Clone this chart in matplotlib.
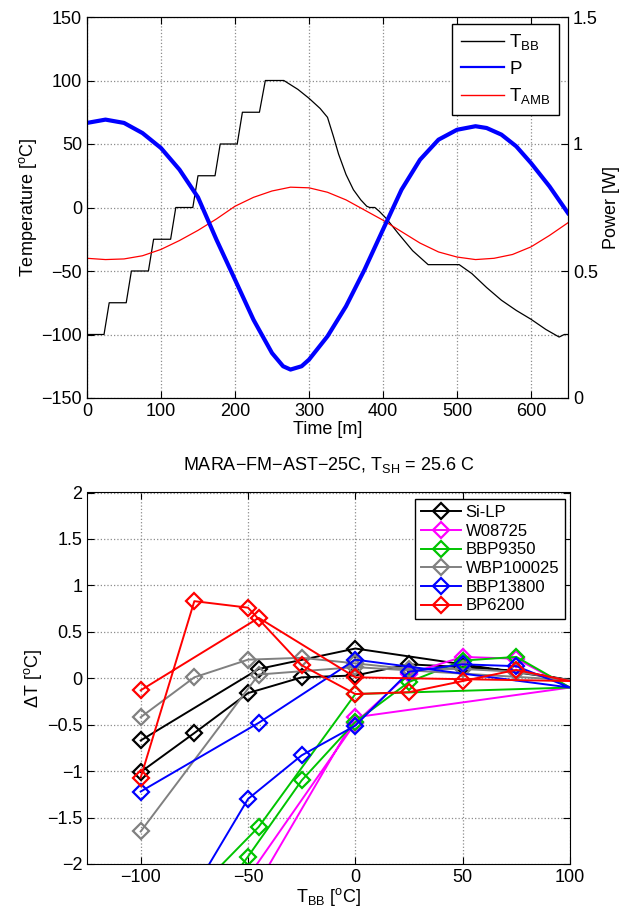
import matplotlib
matplotlib.use('Agg')
import matplotlib.pyplot as plt
from matplotlib.ticker import FuncFormatter, MultipleLocator

plt.rcParams['font.family'] = ['Liberation Sans', 'DejaVu Sans']
plt.rcParams['mathtext.fontset'] = 'custom'
plt.rcParams['mathtext.rm'] = 'Liberation Sans'
plt.rcParams['mathtext.it'] = 'Liberation Sans:italic'
plt.rcParams['font.size'] = 13

# --- top panel: time series ---
t_bb = [0, 23, 30, 53, 60, 83, 90, 113, 120, 143, 150, 173, 180, 203, 210, 233,
        241, 266, 285, 300, 315, 325, 333, 340, 350, 360, 370, 378, 382, 389,
        395, 405, 420, 440, 461, 503, 520, 540, 560, 580, 600, 620, 638, 645, 650]
temp_bb = [-100, -100, -75, -75, -50, -50, -25, -25, 0, 0, 25, 25, 50, 50, 75, 75,
           100, 100, 93, 86, 78, 71, 56, 42, 26, 14, 6, 1, 0, 0,
           -3, -9, -20, -34, -45, -45, -52, -63, -73, -81, -88, -96, -102, -100, -100]

t_amb = [0, 25, 50, 75, 100, 125, 150, 175, 200, 225, 250, 275, 300, 325, 350,
         375, 400, 425, 450, 475, 500, 525, 550, 575, 600, 625, 650]
temp_amb = [-40, -41, -40.5, -38, -33, -26, -18, -9, 1, 8, 13, 16, 15.5, 12, 6,
            -2, -10, -19, -28, -35, -39, -41, -40, -37, -31, -22, -12]

t_pow = [0, 25, 50, 75, 100, 125, 150, 175, 200, 225, 250, 265, 275, 290, 300,
         325, 350, 375, 400, 425, 450, 475, 500, 525, 540, 560, 580, 600, 625, 650]
power = [1.083, 1.096, 1.083, 1.043, 0.984, 0.899, 0.79, 0.623, 0.466, 0.308,
         0.177, 0.125, 0.112, 0.125, 0.151, 0.243, 0.361, 0.505, 0.663, 0.82,
         0.938, 1.017, 1.056, 1.07, 1.063, 1.037, 0.991, 0.925, 0.833, 0.728]

# --- bottom panel: heating run then cooling run ---
tbb_path = [-100, -75, -50, -25, 0, 25, 50, 75, 100, 0, -45, -100]
tbb_path_w = [-100, -75, -50, 0, 25, 50, 75, 100, 0, -45, -100]

dt_silp = [-1.01, -0.59, -0.16, 0.01, 0.03, 0.15, 0.12, 0.08, -0.02, 0.32, 0.10, -0.67]
dt_w08725 = [-4.0, -3.0, -2.14, -0.48, 0.05, 0.23, 0.21, -0.10, -0.42, -2.2, -4.0]
dt_bbp9350 = [-3.5, -2.7, -1.92, -1.10, -0.47, -0.04, 0.19, 0.23, -0.10, -0.17, -1.60, -2.9]
dt_wbp100025 = [-0.42, 0.01, 0.20, 0.22, 0.16, 0.10, 0.10, 0.07, -0.02, 0.12, 0.04, -1.65]
dt_bbp13800 = [-3.2, -2.27, -1.30, -0.83, -0.51, 0.07, 0.15, 0.13, -0.10, 0.20, -0.48, -1.22]
dt_bp6200 = [-1.07, 0.83, 0.76, 0.14, -0.17, -0.15, -0.03, 0.09, -0.03, 0.01, 0.65, -0.13]

filters = ['Si-LP', 'W08725', 'BBP9350', 'WBP100025', 'BBP13800', 'BP6200']
colors = ['#000000', '#ff00ff', '#00c400', '#808080', '#0000ff', '#ff0000']


def fmt(v, pos):
    return ('%g' % v).replace('-', '\u2212')


fig = plt.figure(figsize=(6.23, 9.14), dpi=100)

# top axes
ax = fig.add_axes([87 / 623, 1 - 398 / 914, 481 / 623, 381 / 914])
l1, = ax.plot(t_bb, temp_bb, color='k', lw=0.9)
l3, = ax.plot(t_amb, temp_amb, color='#ff0000', lw=0.9)
ax.set_xlim(0, 650)
ax.set_ylim(-150, 150)
ax.xaxis.set_major_locator(MultipleLocator(100))
ax.yaxis.set_major_locator(MultipleLocator(50))
ax.yaxis.set_major_formatter(FuncFormatter(fmt))
ax.grid(True, linestyle=':', color='0.55', lw=0.9)
ax.tick_params(direction='in', length=5, top=True, right=False)
ax.set_xlabel('Time [m]', labelpad=1)
ax.set_ylabel('Temperature [$^\\mathrm{o}$C]', labelpad=2)

ax2 = ax.twinx()
l2, = ax2.plot(t_pow, power, color='#0000ff', lw=3)
ax2.set_ylim(0, 1.5)
ax2.yaxis.set_major_locator(MultipleLocator(0.5))
ax2.yaxis.set_major_formatter(FuncFormatter(fmt))
ax2.tick_params(direction='in', length=5)
ax2.set_ylabel('Power [W]', labelpad=4)

leg = ax2.legend([l1, l2, l3], ['T$_\\mathrm{BB}$', 'P', 'T$_\\mathrm{AMB}$'],
                 loc='upper right', bbox_to_anchor=(0.982, 0.982), borderaxespad=0,
                 fancybox=False, edgecolor='k', framealpha=1, handlelength=2.3,
                 labelspacing=0.45, borderpad=0.45, handletextpad=0.3, fontsize=13.5)
leg.get_frame().set_linewidth(1.0)
for h, w in zip(leg.get_lines(), [1.0, 1.6, 1.0]):
    h.set_linewidth(w)

# bottom axes
bx = fig.add_axes([87 / 623, 1 - 864 / 914, 483 / 623, 371.5 / 914])
series = [dt_silp, dt_w08725, dt_bbp9350, dt_wbp100025, dt_bbp13800, dt_bp6200]
for name, col, dt in zip(filters, colors, series):
    xs = tbb_path_w if len(dt) == len(tbb_path_w) else tbb_path
    marks = [i for i, x in enumerate(xs) if x != 100]
    bx.plot(xs, dt, color=col, lw=1.4, marker='D', markersize=8,
            markerfacecolor='none', markeredgecolor=col, markeredgewidth=1.6,
            markevery=marks, label=name)
bx.set_xlim(-125, 100)
bx.set_ylim(-2, 2)
bx.xaxis.set_major_locator(MultipleLocator(50))
bx.yaxis.set_major_locator(MultipleLocator(0.5))
bx.xaxis.set_major_formatter(FuncFormatter(fmt))
bx.yaxis.set_major_formatter(FuncFormatter(fmt))
bx.grid(True, linestyle=':', color='0.55', lw=0.9)
bx.tick_params(direction='in', length=5, top=True, right=True)
bx.set_xlabel('T$_\\mathrm{BB}$ [$^\\mathrm{o}$C]', labelpad=0)
bx.set_ylabel('\u0394T [$^\\mathrm{o}$C]', labelpad=2)
bx.set_title('MARA\u2212FM\u2212AST\u221225C, T$_\\mathrm{SH}$ = 25.6 C', pad=16, fontsize=13)

leg2 = bx.legend(loc='upper right', bbox_to_anchor=(0.99, 0.982), borderaxespad=0,
                 fancybox=False, edgecolor='k', framealpha=1, handlelength=2.4,
                 labelspacing=0.22, borderpad=0.35, handletextpad=0.3, fontsize=12)
leg2.get_frame().set_linewidth(1.0)

fig.savefig('out.png', dpi=100)
